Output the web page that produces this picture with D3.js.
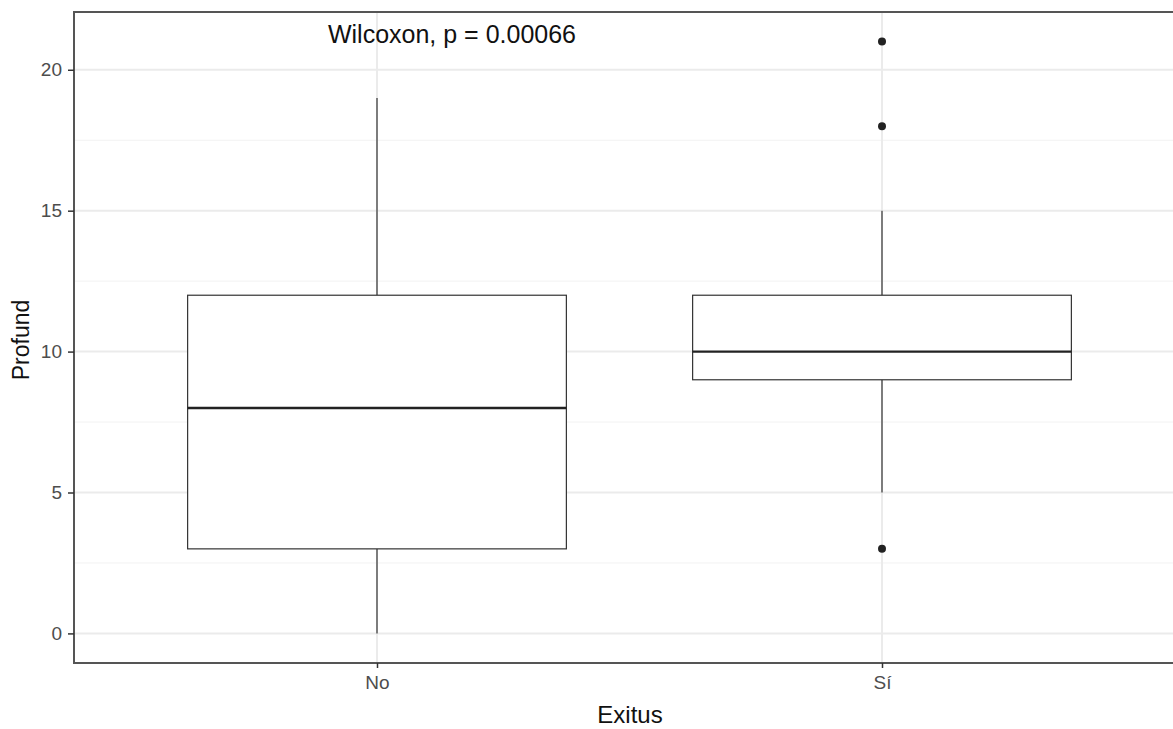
<!DOCTYPE html>
<html>
<head>
<meta charset="utf-8">
<script src="https://cdn.jsdelivr.net/npm/d3@7"></script>
<style>
  body { margin: 0; background: #fff; }
  svg { display: block; font-family: "Liberation Sans", Arial, sans-serif; }
</style>
</head>
<body>
<div id="chart"></div>
<script>
// groups on the x axis
const groups = ["No", "Sí"];
// box stats
const lowerWhisker = [0, 5];
const q1 = [3, 9];
const median = [8, 10];
const q3 = [12, 12];
const upperWhisker = [19, 15];
const outliers = [[], [21, 18, 3]];
const yTicks = [0, 5, 10, 15, 20];
const yMinor = [2.5, 7.5, 12.5, 17.5];
const testLabel = "Wilcoxon, p = 0.00066";

const W = 1173, H = 729;
const panel = {left: 74, right: 1185, top: 12, bottom: 663};

const svg = d3.select("#chart").append("svg")
  .attr("width", W).attr("height", H);

const x = d3.scalePoint()
  .domain(groups)
  .range([panel.left, panel.right])
  .padding(0.6);

const y = d3.scaleLinear()
  .domain([-1.05, 22.05])
  .range([panel.bottom, panel.top]);

const step = x.step();
const halfBox = step * 0.375;

// grid lines
const grid = svg.append("g");
grid.selectAll(".minor").data(yMinor).join("line")
  .attr("x1", panel.left).attr("x2", panel.right)
  .attr("y1", d => y(d)).attr("y2", d => y(d))
  .attr("stroke", "#f2f2f2").attr("stroke-width", 1);
grid.selectAll(".major").data(yTicks).join("line")
  .attr("x1", panel.left).attr("x2", panel.right)
  .attr("y1", d => y(d)).attr("y2", d => y(d))
  .attr("stroke", "#ebebeb").attr("stroke-width", 2);
grid.selectAll(".vmajor").data(groups).join("line")
  .attr("x1", d => x(d)).attr("x2", d => x(d))
  .attr("y1", panel.top).attr("y2", panel.bottom)
  .attr("stroke", "#ebebeb").attr("stroke-width", 2);

// boxes
const boxes = svg.selectAll(".box").data(groups).join("g");
boxes.append("line")
  .attr("x1", d => x(d)).attr("x2", d => x(d))
  .attr("y1", (d, i) => y(q3[i])).attr("y2", (d, i) => y(upperWhisker[i]))
  .attr("stroke", "#333").attr("stroke-width", 1.2);
boxes.append("line")
  .attr("x1", d => x(d)).attr("x2", d => x(d))
  .attr("y1", (d, i) => y(q1[i])).attr("y2", (d, i) => y(lowerWhisker[i]))
  .attr("stroke", "#333").attr("stroke-width", 1.2);
boxes.append("rect")
  .attr("x", d => x(d) - halfBox)
  .attr("width", halfBox * 2)
  .attr("y", (d, i) => y(q3[i]))
  .attr("height", (d, i) => y(q1[i]) - y(q3[i]))
  .attr("fill", "#fff").attr("stroke", "#333").attr("stroke-width", 1.2);
boxes.append("line")
  .attr("x1", d => x(d) - halfBox).attr("x2", d => x(d) + halfBox)
  .attr("y1", (d, i) => y(median[i])).attr("y2", (d, i) => y(median[i]))
  .attr("stroke", "#222").attr("stroke-width", 2.4);

// outliers
const pts = [];
groups.forEach((g, i) => outliers[i].forEach(v => pts.push({g: g, v: v})));
svg.selectAll(".out").data(pts).join("circle")
  .attr("cx", d => x(d.g)).attr("cy", d => y(d.v))
  .attr("r", 4).attr("fill", "#222");

// panel border
svg.append("rect")
  .attr("x", panel.left).attr("y", panel.top)
  .attr("width", panel.right - panel.left)
  .attr("height", panel.bottom - panel.top)
  .attr("fill", "none").attr("stroke", "#555").attr("stroke-width", 2);

// axes
const yAxis = svg.append("g")
  .attr("transform", `translate(${panel.left},0)`)
  .call(d3.axisLeft(y).tickValues(yTicks).tickSize(6).tickPadding(6));
const xAxis = svg.append("g")
  .attr("transform", `translate(0,${panel.bottom})`)
  .call(d3.axisBottom(x).tickSize(5).tickPadding(8));
[yAxis, xAxis].forEach(a => {
  a.select(".domain").remove();
  a.selectAll(".tick line").attr("stroke", "#333").attr("stroke-width", 1.5);
  a.selectAll(".tick text")
    .attr("fill", "#4d4d4d")
    .style("font-size", "19px")
    .style("font-family", "Liberation Sans, Arial, sans-serif");
});

// titles
svg.append("text")
  .attr("x", 452).attr("y", 43)
  .attr("text-anchor", "middle")
  .style("font-size", "25px").attr("fill", "#111")
  .text(testLabel);

svg.append("text")
  .attr("x", 630).attr("y", 723)
  .attr("text-anchor", "middle")
  .style("font-size", "24px").attr("fill", "#111")
  .text("Exitus");

svg.append("text")
  .attr("transform", `translate(29,340) rotate(-90)`)
  .attr("text-anchor", "middle")
  .style("font-size", "23px").attr("fill", "#111")
  .text("Profund");
</script>
</body>
</html>
